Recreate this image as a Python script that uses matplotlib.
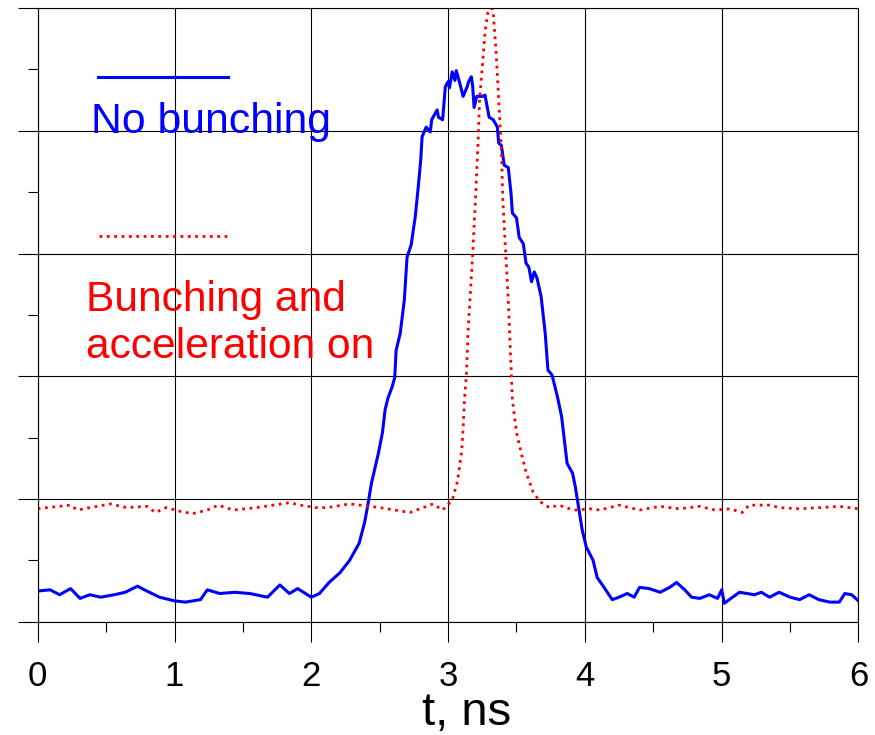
import matplotlib
matplotlib.use('Agg')
import matplotlib.pyplot as plt
from matplotlib.ticker import MultipleLocator, NullFormatter

plt.rcParams['font.family'] = ['Liberation Sans', 'DejaVu Sans']

# --- data (t in ns, signal in arbitrary units) ---
t_nobunch = [0.00, 0.09, 0.16, 0.24, 0.31, 0.38, 0.46, 0.56, 0.64, 0.73, 0.78, 0.89,
             1.00, 1.08, 1.19, 1.24, 1.33, 1.44, 1.55, 1.68, 1.77, 1.84, 1.90, 2.00,
             2.06, 2.13, 2.21, 2.28, 2.32, 2.35, 2.39, 2.41, 2.44, 2.49, 2.52, 2.54,
             2.56, 2.59, 2.61, 2.62, 2.65, 2.68, 2.70, 2.73, 2.76, 2.78, 2.80, 2.81,
             2.84, 2.87, 2.88, 2.92, 2.93, 2.96, 2.98, 3.00, 3.01, 3.03, 3.05, 3.06,
             3.08, 3.11, 3.14, 3.15, 3.17, 3.18, 3.19, 3.21, 3.25, 3.27, 3.30, 3.33,
             3.36, 3.37, 3.39, 3.41, 3.44, 3.46, 3.47, 3.50, 3.52, 3.55, 3.57, 3.59,
             3.61, 3.63, 3.65, 3.68, 3.71, 3.73, 3.76, 3.80, 3.83, 3.85, 3.87, 3.91,
             3.93, 3.96, 3.98, 4.01, 4.06, 4.09, 4.14, 4.20, 4.25, 4.31, 4.36, 4.40,
             4.47, 4.55, 4.62, 4.67, 4.73, 4.78, 4.84, 4.91, 4.97, 5.00, 5.02, 5.08,
             5.13, 5.24, 5.29, 5.35, 5.42, 5.50, 5.57, 5.64, 5.71, 5.79, 5.86, 5.90,
             5.95, 6.00]
s_nobunch = [0.25, 0.26, 0.22, 0.27, 0.19, 0.22, 0.20, 0.22, 0.24, 0.29, 0.26, 0.20,
             0.17, 0.16, 0.18, 0.26, 0.23, 0.24, 0.23, 0.20, 0.30, 0.23, 0.27, 0.20,
             0.23, 0.32, 0.40, 0.50, 0.58, 0.64, 0.81, 0.93, 1.13, 1.37, 1.54, 1.73,
             1.82, 1.91, 1.99, 2.21, 2.35, 2.62, 2.97, 3.07, 3.30, 3.52, 3.76, 3.95,
             4.03, 3.99, 4.09, 4.17, 4.11, 4.09, 4.36, 4.40, 4.35, 4.48, 4.41, 4.49,
             4.41, 4.28, 4.36, 4.40, 4.44, 4.36, 4.19, 4.28, 4.28, 4.29, 4.11, 4.09,
             4.03, 3.90, 3.88, 3.72, 3.70, 3.49, 3.33, 3.29, 3.13, 3.08, 2.92, 2.89,
             2.77, 2.85, 2.80, 2.65, 2.35, 2.05, 2.01, 1.83, 1.67, 1.48, 1.29, 1.21,
             1.10, 0.89, 0.75, 0.61, 0.50, 0.36, 0.28, 0.18, 0.20, 0.23, 0.20, 0.28,
             0.27, 0.24, 0.28, 0.32, 0.26, 0.20, 0.19, 0.22, 0.19, 0.26, 0.15, 0.20,
             0.24, 0.22, 0.24, 0.20, 0.24, 0.20, 0.18, 0.22, 0.18, 0.16, 0.16, 0.23,
             0.22, 0.17]

t_bunch = [0.00, 0.07, 0.24, 0.29, 0.53, 0.65, 0.80, 0.86, 0.94, 1.04, 1.13, 1.24,
           1.32, 1.43, 1.60, 1.84, 1.92, 2.03, 2.12, 2.28, 2.50, 2.72, 2.89, 2.96,
           3.03, 3.07, 3.10, 3.11, 3.12, 3.135, 3.145, 3.16, 3.18, 3.20, 3.22, 3.23,
           3.25, 3.27, 3.29, 3.32, 3.33, 3.35, 3.37, 3.39, 3.40, 3.42, 3.44, 3.46,
           3.47, 3.50, 3.54, 3.57, 3.62, 3.67, 3.71, 3.74, 3.81, 3.89, 3.93, 4.04,
           4.11, 4.25, 4.40, 4.55, 4.69, 4.84, 4.95, 5.06, 5.15, 5.20, 5.35, 5.42,
           5.57, 5.72, 5.86, 6.00]
s_bunch = [0.92, 0.93, 0.95, 0.91, 0.96, 0.93, 0.94, 0.89, 0.93, 0.90, 0.88, 0.91,
           0.95, 0.91, 0.93, 0.97, 0.95, 0.93, 0.93, 0.96, 0.93, 0.89, 0.96, 0.91,
           0.99, 1.15, 1.40, 1.58, 1.81, 2.03, 2.35, 2.62, 3.00, 3.44, 3.92, 4.25,
           4.52, 4.80, 4.96, 5.00, 4.96, 4.66, 4.25, 3.84, 3.44, 3.03, 2.62, 2.08,
           1.81, 1.54, 1.35, 1.22, 1.06, 0.98, 0.95, 0.93, 0.95, 0.92, 0.91, 0.92,
           0.91, 0.95, 0.91, 0.94, 0.92, 0.94, 0.91, 0.92, 0.89, 0.95, 0.95, 0.93,
           0.92, 0.93, 0.94, 0.92]

xticks = [0, 1, 2, 3, 4, 5, 6]

fig = plt.figure(figsize=(8.75, 7.35), dpi=100)
ax = fig.add_axes([0.0431, 0.1541, 0.9380, 0.8350])

ax.plot(t_nobunch, s_nobunch, color='#0000ff', lw=2.2, solid_joinstyle='round')
ax.plot(t_bunch, s_bunch, color='#ff0000', lw=2.0, ls=':')

ax.set_xlim(0, 6)
ax.set_ylim(0, 5)
ax.set_xticks(xticks)
ax.set_xticklabels([str(v) for v in xticks])
ax.xaxis.set_minor_locator(MultipleLocator(0.5))
ax.yaxis.set_major_locator(MultipleLocator(1))
ax.yaxis.set_minor_locator(MultipleLocator(0.5))
ax.yaxis.set_major_formatter(NullFormatter())
ax.tick_params(which='major', direction='out', length=14.4, width=0.8,
               labelsize=25, pad=13, color='black')
ax.tick_params(which='minor', direction='out', length=7.5, width=0.8, color='black')
for lbl in ax.get_xticklabels():
    lbl.set_x(lbl.get_position()[0])
ax.grid(True, which='major', color='black', lw=0.8)
for sp in ax.spines.values():
    sp.set_linewidth(0.8)
    sp.set_color('black')

# hand-drawn legend
ax.plot([0.44, 1.39], [4.44, 4.44], color='#0000ff', lw=2.2)
ax.text(0.39, 3.98, 'No bunching', color='#0000ff', fontsize=30.8, va='baseline')
ax.plot([0.45, 1.39], [3.14, 3.14], color='#ff0000', lw=2.0, ls=':')
ax.text(0.35, 2.15, 'Bunching and\nacceleration on', color='#ff0000',
        fontsize=30.6, va='baseline', linespacing=1.22)

fig.text(0.533, 0.014, 't, ns', fontsize=34, ha='center', va='baseline')

fig.savefig('out.png', dpi=100)
